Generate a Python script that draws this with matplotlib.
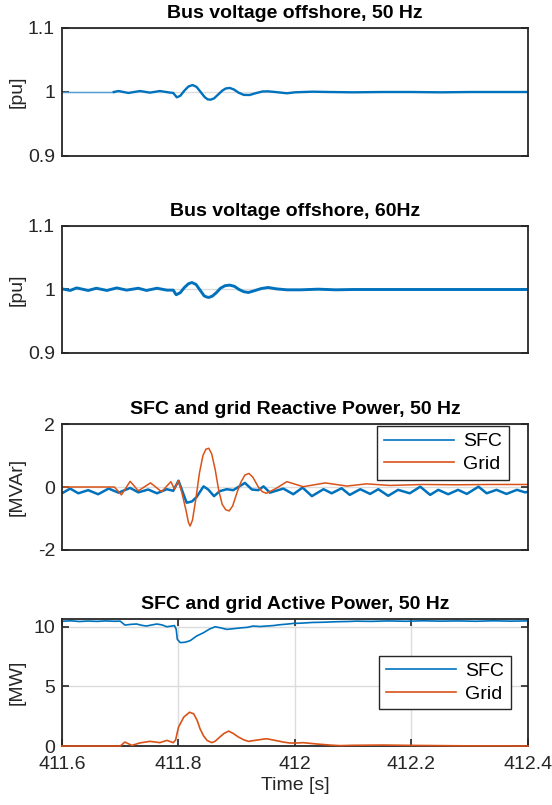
import matplotlib
matplotlib.use("Agg")
import matplotlib.pyplot as plt
from matplotlib.ticker import FuncFormatter

plt.rcParams['font.family'] = ['Liberation Sans', 'DejaVu Sans']
plt.rcParams['axes.unicode_minus'] = False

BLUE = '#0072BD'
ORANGE = '#D95319'
DARK = '#262626'
FS = 14

# Bus voltage 50 Hz [pu]
t_v50 = [411.600, 411.689, 411.697, 411.714, 411.734, 411.751, 411.768, 411.786,
         411.791, 411.797, 411.803, 411.810, 411.817, 411.824, 411.831, 411.838,
         411.845, 411.850, 411.855, 411.861, 411.868, 411.875, 411.881, 411.888,
         411.895, 411.903, 411.912, 411.922, 411.932, 411.944, 411.954, 411.966,
         411.986, 412.000, 412.030, 412.060, 412.100, 412.150, 412.200, 412.250,
         412.300, 412.350, 412.400]
v50 = [1.0, 1.0, 1.0015, 0.9985, 1.0015, 0.999, 1.0015, 0.999,
       0.9985, 0.9917, 0.994, 1.002, 1.0085, 1.0109, 1.008, 1.000,
       0.992, 0.9885, 0.988, 0.990, 0.996, 1.002, 1.0055, 1.0063,
       1.004, 0.999, 0.9955, 0.9953, 0.998, 1.0008, 1.001, 1.0,
       0.998, 0.9995, 1.0005, 1.0, 0.9995, 1.0, 1.0, 0.9995,
       1.0, 1.0, 1.0]

# Bus voltage 60 Hz [pu]
t_v60 = [411.600, 411.614, 411.625, 411.645, 411.659, 411.677, 411.694, 411.711,
         411.731, 411.745, 411.763, 411.780, 411.791, 411.796, 411.803, 411.810,
         411.817, 411.823, 411.830, 411.837, 411.844, 411.849, 411.852, 411.858,
         411.865, 411.872, 411.880, 411.888, 411.896, 411.904, 411.912, 411.920,
         411.930, 411.942, 411.954, 411.968, 411.986, 412.010, 412.040, 412.070,
         412.100, 412.150, 412.200, 412.250, 412.300, 412.350, 412.400]
v60 = [1.001, 0.9985, 1.0025, 0.9985, 1.002, 0.9985, 1.0025, 0.999,
       1.002, 0.9985, 1.002, 0.999, 0.999, 0.9917, 0.995, 1.003,
       1.009, 1.011, 1.008, 0.999, 0.990, 0.988, 0.9875, 0.9895,
       0.995, 1.002, 1.006, 1.0069, 1.005, 1.000, 0.9965, 0.9953,
       0.998, 1.0015, 1.0032, 1.001, 0.9995, 0.9995, 1.0005, 0.9995,
       1.0, 1.0, 1.0, 1.0, 1.0, 1.0, 1.0]

# SFC reactive power [MVAr]
t_q_sfc = [411.600, 411.614, 411.628, 411.645, 411.662, 411.680, 411.697, 411.717,
           411.731, 411.748, 411.763, 411.780, 411.791, 411.800, 411.805, 411.814,
           411.823, 411.831, 411.843, 411.851, 411.861, 411.871, 411.883, 411.894,
           411.914, 411.926, 411.937, 411.946, 411.957, 411.980, 411.997, 412.013,
           412.029, 412.049, 412.063, 412.080, 412.094, 412.112, 412.129, 412.143,
           412.160, 412.177, 412.197, 412.215, 412.232, 412.246, 412.263, 412.280,
           412.295, 412.315, 412.329, 412.346, 412.363, 412.381, 412.395, 412.400]
q_sfc = [-0.20, -0.05, -0.20, -0.10, -0.23, -0.05, -0.18, -0.03,
         -0.17, -0.08, -0.20, -0.07, -0.12, 0.20, -0.05, -0.50,
         -0.46, -0.32, 0.02, -0.08, -0.29, -0.13, -0.07, -0.10,
         0.13, -0.08, -0.10, 0.02, -0.18, -0.05, -0.23, -0.02,
         -0.29, -0.07, -0.20, -0.04, -0.25, -0.07, -0.22, -0.07,
         -0.28, -0.09, -0.20, 0.01, -0.25, -0.09, -0.23, -0.09,
         -0.22, 0.01, -0.20, -0.09, -0.22, -0.09, -0.17, -0.15]

# Grid reactive power [MVAr]
t_q_grid = [411.600, 411.690, 411.702, 411.717, 411.731, 411.752, 411.771, 411.787,
            411.793, 411.800, 411.806, 411.813, 411.817, 411.820, 411.824, 411.830,
            411.836, 411.842, 411.847, 411.852, 411.857, 411.863, 411.869, 411.875,
            411.881, 411.887, 411.893, 411.900, 411.907, 411.914, 411.921, 411.928,
            411.937, 411.944, 411.951, 411.968, 411.986, 412.014, 412.052, 412.089,
            412.123, 412.163, 412.220, 412.278, 412.335, 412.400]
q_grid = [0.0, 0.0, -0.25, 0.18, -0.12, 0.13, -0.15, 0.17,
          -0.07, 0.20, -0.20, -0.75, -1.12, -1.24, -1.05, -0.35,
          0.45, 1.00, 1.20, 1.23, 1.05, 0.55, -0.10, -0.55,
          -0.72, -0.76, -0.60, -0.20, 0.15, 0.38, 0.43, 0.30,
          0.0, -0.15, -0.20, -0.04, 0.17, 0.01, 0.13, 0.03,
          0.10, 0.05, 0.08, 0.07, 0.08, 0.08]

# SFC active power [MW]
t_p_sfc = [411.600, 411.615, 411.630, 411.645, 411.660, 411.675, 411.690, 411.700,
           411.708, 411.718, 411.728, 411.737, 411.745, 411.754, 411.763, 411.772,
           411.780, 411.787, 411.793, 411.796, 411.798, 411.803, 411.811, 411.820,
           411.831, 411.843, 411.853, 411.863, 411.873, 411.883, 411.895, 411.906,
           411.918, 411.928, 411.940, 411.951, 411.963, 411.974, 411.986, 411.997,
           412.010, 412.030, 412.050, 412.070, 412.090, 412.106, 412.130, 412.160,
           412.190, 412.220, 412.250, 412.280, 412.310, 412.340, 412.370, 412.400]
p_sfc = [10.46, 10.50, 10.44, 10.48, 10.45, 10.49, 10.46, 10.47,
         10.14, 10.20, 10.23, 10.12, 10.06, 10.15, 10.23, 10.15,
         10.00, 10.05, 10.10, 9.80, 8.94, 8.67, 8.70, 8.83,
         9.22, 9.50, 9.80, 10.00, 9.90, 9.78, 9.84, 9.90,
         9.95, 10.06, 10.02, 10.06, 10.10, 10.17, 10.22, 10.28,
         10.30, 10.36, 10.38, 10.42, 10.44, 10.47, 10.45, 10.49,
         10.46, 10.50, 10.47, 10.49, 10.46, 10.50, 10.47, 10.49]

# Grid active power [MW]
t_p_grid = [411.600, 411.700, 411.708, 411.720, 411.733, 411.751, 411.768, 411.780,
            411.791, 411.795, 411.800, 411.809, 411.819, 411.826, 411.832, 411.837,
            411.843, 411.849, 411.857, 411.863, 411.869, 411.878, 411.886, 411.894,
            411.903, 411.912, 411.920, 411.935, 411.951, 411.965, 411.980, 411.991,
            412.003, 412.014, 412.037, 412.060, 412.077, 412.100, 412.150, 412.200,
            412.250, 412.300, 412.350, 412.400]
p_grid = [0.0, 0.0, 0.33, 0.05, 0.25, 0.39, 0.28, 0.47,
          0.28, 0.50, 1.58, 2.42, 2.83, 2.70, 2.15, 1.44,
          0.85, 0.47, 0.28, 0.40, 0.67, 1.05, 1.25, 1.05,
          0.75, 0.52, 0.39, 0.50, 0.61, 0.48, 0.33, 0.25,
          0.25, 0.28, 0.17, 0.08, 0.03, 0.06, 0.08, 0.05,
          0.03, 0.01, 0.01, 0.0]

x_ticks = [411.6, 411.8, 412.0, 412.2, 412.4]

W, H = 552, 805
fig = plt.figure(figsize=(W / 100, H / 100), dpi=100)
LEFT, RIGHT = 62, 528


def make_axes(top, bottom, ylabel):
    ax = fig.add_axes([LEFT / W, 1 - bottom / H, (RIGHT - LEFT) / W, (bottom - top) / H])
    for s in ax.spines.values():
        s.set_color(DARK)
        s.set_linewidth(1.3)
    ax.tick_params(direction='in', length=5, width=1.2, colors=DARK,
                   labelsize=FS, top=True, right=True, pad=5)
    ax.set_xlim(411.6, 412.4)
    ax.set_ylabel(ylabel, fontsize=FS, color=DARK)
    # label anchor is its right edge (text centred near x = 17 px)
    ax.yaxis.set_label_coords((26 - LEFT) / (RIGHT - LEFT), 0.5)
    return ax


def style_title(ax, text):
    ax.set_title(text, fontsize=FS, fontweight='bold', color='black', pad=7)


def add_legend(ax, loc, anchor):
    leg = ax.legend(loc=loc, bbox_to_anchor=anchor, borderaxespad=0, fontsize=FS,
                    handlelength=3.6, handletextpad=0.5, frameon=True, fancybox=False,
                    edgecolor=DARK, borderpad=0.35, labelspacing=0.25, framealpha=1)
    leg.get_frame().set_linewidth(1.0)
    for line in leg.get_lines():
        line.set_linewidth(1.2)
    return leg


# panel 1
ax1 = make_axes(28, 156, '[pu]')
ax1.plot(t_v50[:2], v50[:2], color='#4d9fd6', lw=1.0)
ax1.plot(t_v50[1:], v50[1:], color=BLUE, lw=1.7)
ax1.set_ylim(0.9, 1.1)
ax1.set_yticks([0.9, 1.0, 1.1])
ax1.set_yticklabels(['0.9', '1', '1.1'])
ax1.set_xticks([])
ax1.grid(axis='y', color='#dcdcdc', lw=1)
ax1.set_axisbelow(True)
style_title(ax1, 'Bus voltage offshore, 50 Hz')

# panel 2
ax2 = make_axes(226, 353, '[pu]')
ax2.plot(t_v60, v60, color=BLUE, lw=2.1)
ax2.set_ylim(0.9, 1.1)
ax2.set_yticks([0.9, 1.0, 1.1])
ax2.set_yticklabels(['0.9', '1', '1.1'])
ax2.set_xticks([])
ax2.grid(axis='y', color='#dcdcdc', lw=1)
ax2.set_axisbelow(True)
style_title(ax2, 'Bus voltage offshore, 60Hz')

# panel 3
ax3 = make_axes(424, 550, '[MVAr]')
ax3.plot(t_q_sfc, q_sfc, color=BLUE, lw=1.8, label='SFC')
ax3.plot(t_q_grid, q_grid, color=ORANGE, lw=1.1, label='Grid')
ax3.set_ylim(-2, 2)
ax3.set_yticks([-2, 0, 2])
ax3.set_xticks([])
ax3.grid(axis='y', color='#dcdcdc', lw=1)
ax3.set_axisbelow(True)
style_title(ax3, 'SFC and grid Reactive Power, 50 Hz')
add_legend(ax3, 'upper right', (1 - 19 / 466, 1 - 2 / 126))

# panel 4
ax4 = make_axes(619, 746, '[MW]')
ax4.plot(t_p_sfc, p_sfc, color=BLUE, lw=1.2, label='SFC')
ax4.plot(t_p_grid, p_grid, color=ORANGE, lw=1.2, label='Grid', clip_on=False, zorder=5)
ax4.set_ylim(0, 10.65)
ax4.set_yticks([0, 5, 10])
ax4.set_xticks(x_ticks)
ax4.xaxis.set_major_formatter(FuncFormatter(lambda v, p: f'{v:g}'))
ax4.tick_params(axis='x', pad=7)
ax4.grid(True, color='#dcdcdc', lw=1)
ax4.set_axisbelow(True)
ax4.set_xlabel('Time [s]', fontsize=FS, color=DARK, labelpad=3)
style_title(ax4, 'SFC and grid Active Power, 50 Hz')
add_legend(ax4, 'center right', (1 - 17 / 466, 0.5))

fig.savefig('out.png', dpi=100)
